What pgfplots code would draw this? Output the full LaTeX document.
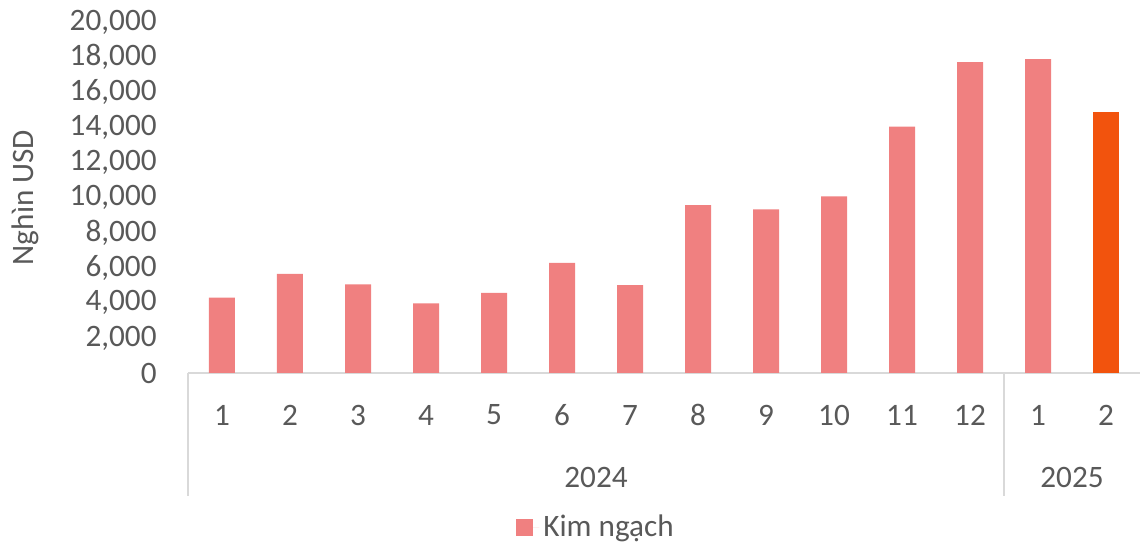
\documentclass[border=0pt]{standalone}
\usepackage{fontspec}
\setmainfont{Carlito}
\usepackage{pgfplots}
\pgfplotsset{compat=1.18}
\definecolor{barpink}{HTML}{F08080}
\definecolor{barorange}{HTML}{F2530D}
\definecolor{txt}{HTML}{595959}
\definecolor{axgray}{HTML}{D9D9D9}
\newcommand{\fs}{\fontsize{15.6}{18}\selectfont}
\begin{document}
\begin{tikzpicture}
\useasboundingbox (-94pt,-86pt) rectangle (476pt,186.5pt);
\begin{axis}[
    at={(0pt,0pt)}, anchor=south west,
    width=476pt, height=175.5pt, scale only axis,
    xmin=-0.5, xmax=13.5, ymin=0, ymax=20000,
    clip=false,
    axis x line*=bottom, axis y line*=left,
    y axis line style={draw=none},
    x axis line style={axgray, line width=1pt},
    major tick length=0pt,
    xtick={0,...,13},
    xticklabels={1,2,3,4,5,6,7,8,9,10,11,12,1,2},
    ytick={0,2000,...,20000},
    scaled y ticks=false,
    /pgf/number format/assume math mode=true,
    /pgf/number format/1000 sep={,},
    ticklabel style={font=\fs, text=txt},
    xticklabel style={anchor=center, yshift=-21pt},
    yticklabel style={anchor=east, inner sep=0pt, xshift=-15.5pt},
    every axis y label/.style={at={(axis description cs:-0.1712,0.5)}, rotate=90, anchor=center},
    ylabel={Nghìn USD},
    label style={font=\fs, text=txt},
    legend style={at={(axis description cs:0.3445,-0.44)}, anchor=west, draw=none,
        font=\fs, text=txt, inner sep=0pt, fill=none},
    legend cell align=left,
]
\addplot[ybar, bar width=13pt, bar shift=0pt, fill=barpink, draw=none,
    legend image code/.code={\fill[barpink] (0pt,-4.25pt) rectangle (8.5pt,4.25pt);
        \path (0pt,0pt) -- (11.5pt,0pt);}]
    table {
x y
0 4300
1 5650
2 5050
3 3970
4 4560
5 6270
6 5000
7 9560
8 9330
9 10070
10 14040
11 17720
12 17890
};
\addlegendentry{Kim ngạch}
\addplot[ybar, bar width=13pt, bar shift=0pt, fill=barorange, draw=none, forget plot]
    table {
x y
13 14870
};
\draw[axgray, line width=1pt] (axis cs:-0.5,0) -- ++(0pt,-61.5pt);
\draw[axgray, line width=1pt] (axis cs:11.5,0) -- ++(0pt,-61.5pt);
\node[font=\fs, text=txt, yshift=-52pt] at (axis cs:5.5,0) {2024};
\node[font=\fs, text=txt, yshift=-52pt] at (axis cs:12.5,0) {2025};
\end{axis}
\end{tikzpicture}
\end{document}
